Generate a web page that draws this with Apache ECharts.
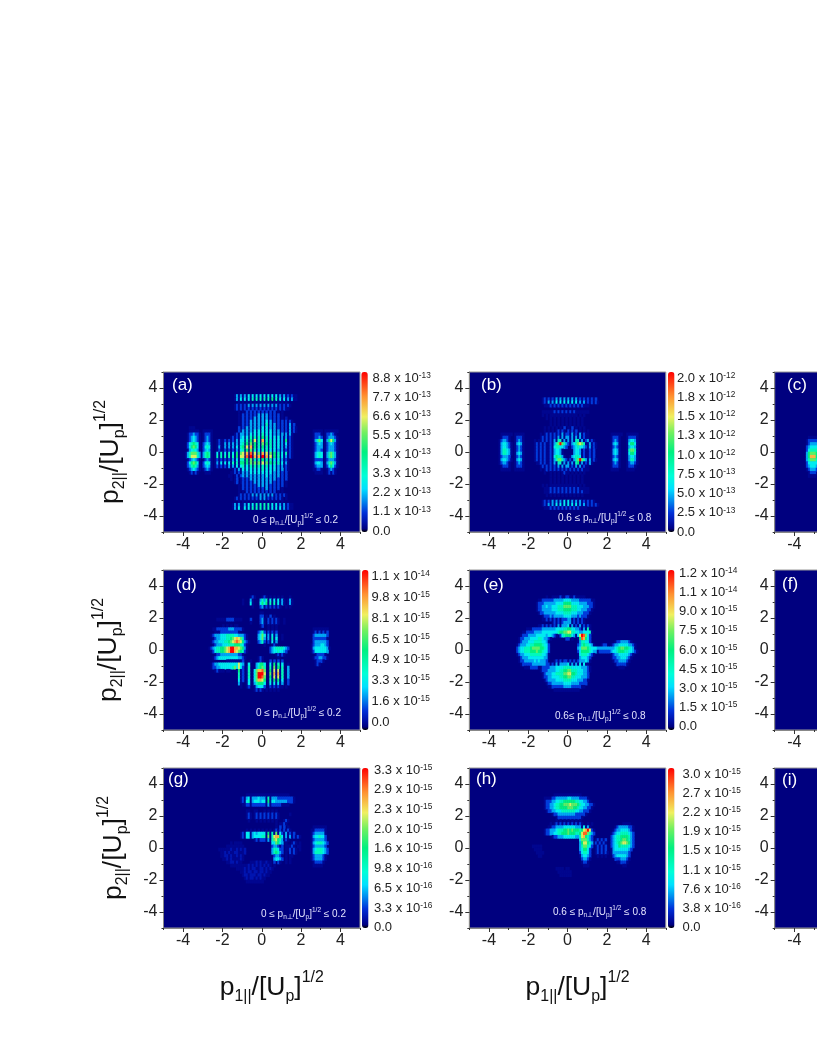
<!DOCTYPE html>
<html><head><meta charset="utf-8">
<style>html,body{margin:0;padding:0;background:#fff}#main{width:817px;height:1058px;filter:blur(0.75px)}</style>
<script src="https://cdn.jsdelivr.net/npm/echarts@6/dist/echarts.min.js"></script>
</head><body><div id="main"></div>
<script>
// Each row: y from 3.9 down to -3.9 (step 0.2). Each row is split in 10-column groups, x from -4 (step 0.1).
// '.' empty, a/b faint, digits tenths of the scale maximum, x = maximum.
const panelA = ["","",
"_ _ ......a2a2 a2a3a3a3a3 a3a3a3a3a2 a2a1a1aa..",
"_ _ ......a2a3 a3a3a4a4a4 a4a4a5a4a3 a3a2a2aa..",
"_ _ ........a. a.a.a.a.a. a.a.a.a.a. a.a.....",
"_ _ ......a1a1 a1a2a2a2a2 a2a2a2a2a1 a1a1a...",
"_ _ ......a1a1 a1a1a1a1a1 a1a1a1a1a1 a1aa....",
"_ _ ........a. a.1.1.1.1. 1.1.1.1.a. a.",
"_ _ ........a. 1.1.1.1.2. 2.2.1.1.1. a.",
"_ _ ........a. 1.1.1.2.2. 2.2.1.1.1. a.b",
"_ _ ........a. 1.1.2.2.2. 2.3.2.1.1. 1.1a1a",
"_ _ ........a. 1.1.2.2.2. 2.4.2.2.1. 1.1a2a1.",
"...aaa.... _ ........1. 1.2.2.2.2. 3.3.2.2.1. 1.1a2a1a",
"...aaaaa.. aaaaa..... ........1. 2.2.2.3.3. 3.3.3.2.2. 1.1a2a1a.. ......aaaa a.aaaaaaa.",
"..a11211a. a111a..... ......a1a2 2.2.3.3.3. 4.3.3.2.2. 2.2a2a.... ......a111 a.a1121a",
"..a12321a. a121a..... ....a1a1a2 3.3.4.4.4. 5.4.3.3.3. 2a2a1a.... ......a112 1.a12221a",
"..a12321a. a121a..a1a a1a1a1a2a3 3.4.5.7.4. 8.4.4.3.3. 2a5a1a.... ......a246 3.a25752a.",
"..134543a. 1232a..a1a a2a2a2a2a3 4.5.6.5.4. 6.5.4.3.3. 2a3a1a.... ......a123 2.a12321a.",
"..135653a. 1343a..a2a a2a2a2a3a4 5.7.8.5.4. 5.4.4.3.3. 2a2a1a.... ......a122 2.a12221a.",
"..a23432a. 1232a..a1a a1a1a1a2a3 4.5.6.4.3. 4.4.3.3.2. 2a1a1a.... ......a122 1.a12221a.",
".a2466642a 2454a.a3a4 a3a4a3a5a6 7.8.9.7.6. 8.7.6.5.4. 3a4a1a.... ......a234 3.a24642a.",
".a2477742a 2454a.a4a4 a4a4a4a5a7 7.9.x.8.8. x.8.7.5.4. 3a2a1a.... ......a234 3.a24642a.",
"..a12321a. a121a.a1a1 a1a1a2a3a4 4.5.6.4.4. 5.4.4.3.3. 2a1a...... ......a111 1.a12221a.",
"..135653a. 1343a.a2a3 a3a3a4a4a5 5.5.6.6.6. 7.6.5.4.4. 3a2a...... ......a233 2.a24642a.",
"..124542a. 1232a.a1a1 a1a2a2a3a3 4.3.4.4.4. 4.4.3.3.2. 2a1a...... ......a122 2.a13531a.",
"..a12321a. a121a..... .....a1a2a 3.3.3.3.3. 4.3.3.3.2. 2.1a...... ......aa11 a..a121a..",
"...a1a1a.. .aaa...... ....aa1a1a 2.2.3.3.3. 3.3.3.2.2. 1.1....... .......aaa a..a1a1a..",
"_ _ ...aa.a1a1 2.2.2.2.2. 2.3.2.2.2. 1.1.",
"_ _ ....a.a1.a 1.1.2.2.2. 2.2.2.2.1. 1.1",
"_ _ ......a1.a 1.1.1.2.2. 2.2.2.1.1. 1.a.",
"_ _ ........a. 1.1.1.1.2. 2.2.1.1.1. 1.a.",
"_ _ ........a. 1.1.1.1.1. 1.2.1.1.1. a.",
"_ _ ........a. a.1.1.1.1. 1.1.1.1.a. a.",
"_ _ ........a1 a1a1a2a2a2 a2a2a2a1a1 a1a...",
"_ _ ......a1a1 a1a1a1a1a2 a2a1a1a1a1 a.a.....",
"_ _ ........a. a.a.a.a.a. a.a.a.a.a. a.",
"_ _ .....a2a2a a2a3a3a4a4 a4a4a3a3a2 a2a1aa",
"_ _ .....a2a3a a3a3a4a4a4 a4a4a3a3a3 a2a1aa",
"",""];
const panelB = ["","","",
"_ _ .......a1a 1a1a2a2a2a 2a2a2a1a1a 1a1a1",
"_ _ .......a1a 2a2a3a3a3a 3a3a3a2a2a 1a1a1a",
"_ _ ........aa a1a1a1a1a1 a1a1a1a1aa a",
"",
"_ _ .......aaa aaa1a1a1a1 a1a1aaaaaa a",
"_ _ .......a.a .aaaaaaaaa aaaaa.a.a",
"_ _ .........a .a.a.a.a.a .a.a.a.a",
"_ _ _ .a.a.a.a.a .a.a.a.a.",
"_ _ _ .a.a.a.a.a .a.a.a.a.",
"_ _ ........a. a.a.a.a.1. a.1.a.a.a.",
"_ _ ........a. a.a.a1a1a. 1a1a1.a.a. a",
"......aaaa aa.aaaaa.. ......a.a1 a1a1a1a2a1 1a2a1a2a1a a......... ..aaaaaa.. aaaaaa",
"......a111 a..a111a.. ......a1a1 a1a1a2a2a2 2a2a2a2a1a a......... ..a111a... a1111a",
".....a1221 a..a121a.. ...a.aa1a1 a1a2a44a2a 2a2a44a2a1 2a1a...... ..a121a... a2332a",
".....a2332 1a.a232a.. ...a1a1a1a a1a246x642 1a2346764a a2a1a..... ..a232a... a3553a",
".....a2332 1a.a121a.. ...a1a1a1a a1a3443321 ..12343321 a2a1a..... ..a121a... a2332a",
".....a2443 2a.a121a.. ...a1a1a1a a1a2332a.. ...2332a1a a1a1...... ..a232a... a4664a",
".....a2443 2a.a232a.. ...a1a1a1a a1a2332a.. ...2332a1a a1a1...... ..a232a... a3553a",
".....a1222 1..a121a.. ...a1a1a1a a1a35442a. .a23443a1a a1a1...... ..a121a... a2332a",
".....a2332 1a.a232a.. ...a1a1a1a a1a2466421 a1a246x642 a2a1a..... ..a232a... a2442a",
".....a1221 a..a121a.. ....aa1a1a a1a2a44a2a 2a2a45a2a1 a2a....... ..a121a... a1221a",
"......a111 a..a111a.. ......a1a1 a1a1a2a2a2 2a1a2a2a1a a......... ..a111a... a111a",
"......aaaa a..aaaaa.. ......a.a1 a1a1a1a1a1 a1a1a1a1aa a......... ..aaaa.... aaaa",
"_ _ ........a. .a.a.a.a1a a.a.a.a.a.",
"_ _ _ .a.a.a.a.a .a.a.a.a.",
"_ _ _ .a.a.a.a.a .a.a.a.a.",
"_ _ _ .a.a.a.a.a .a.a.a.a.",
"_ _ .......a.a .aaaaaaaaa aaaaa.a.a",
"_ _ ........aa a1a1a1a1a1 a1a1a1aaaa a",
"_ _ ........aa a1a1a1a1a1 a1a1a1a1aa a",
"_ _ .........a .a.a.a.a.a .a.a.a.a",
"",
"_ _ .......a1a 1a2a2a2a3a 3a2a2a2a1a 1a1a",
"_ _ .......a1a 2a2a3a3a3a 3a3a3a2a2a 1a1a1a",
"_ _ ........aa a1a1a1a1a1 a1a1a1aaaa",
"",""];
const panelC = ["","","","","","","","","","","","","","","",
".......aaa aaa",
"......a111 11",
"......a122 22",
"......1233 33",
"......1344 44",
"......2566 65",
"......2588 853",
"......2466 64",
"......1333 33",
"......1233 32",
"......a122 21",
".......a11 1",
".......aaa a",
"","","","","","","","","","","",""];
const panelD = ["","","",
"_ _ _ ....a1a... a1a.a.a.a. a...a",
"_ _ _ a...2a...2 424a3a3a3a 2a.a2a.",
"_ _ _ a...3a...3 535a4a4a3a 2a.a2a.",
"_ _ _ .....a...1 2a1a1a1a1a ..a.a",
"",
"_ _ _ .........a a",
"_ _ _ .........1 1.a.1.a..",
"_ .......aaa aa1111aaaa ....1....1 2a.1a1a1a. .a",
"_ _ _ ....a....1 2a.1a1a1a. .a",
"_ _ a.a.a.aa.. .........a 1..a.a.a",
"_ .....aa111 1112221111 a......... ...a.a.a.. _ ......aaaa aaaa",
"_ ......aaa1 11111111a. ........12 41.1a1a1.. _ ......a1a1 a1a1",
"_ ....a12223 3344443322 21a.....23 63.2a3a2.. a......... ......1222 2221",
"_ .....a1223 3344567876 41a.....23 62.2a4a3.. a......... ......1111 111a",
"_ ....a12233 3445678987 521a....12 41.1a3a2.. _ ......1222 2221",
"_ .....a1222 3334445554 31a....... .a...a1a.. _ .....a1222 3321",
"_ ...a123445 5678xx8876 52a....... ....123444 4321...... .....a2333 3332a",
"_ ....a13445 5678xx8765 41a....... ....123343 321....... .....a1333 3332",
"_ ......a112 2222222211 a......... .......a1a 1a........ .......a11 11a",
"_ .....a1233 3333333322 1a......a1 a.......a. _ ......a112 211a",
"_ _ ..aaaaaaaa 1...a...a1 a...1.1.1. 1......... .......a11 1a",
"_ ....a12233 3333333373 2..3...235 53..3a5a4. 3..a...... .......a1a",
"_ ....a11223 3333346373 1.a4...245 64..4a6a5. 4..2......",
"_ ......a1aa a.aa...a5a 1.a4..3688 96..5a7a7a 4..2..",
"_ _ ........4a 1.a4..36xx x7..6a8a8a 4..2..",
"_ _ ........4a 1.a4..36xx 96..5a7a7a 4..2..",
"_ _ ........3a 1.a3..3688 75..4a5a5a 3..1..",
"_ _ ........2a ..a3..2455 53..3a3a3a 2..1",
"_ _ .........a ..a1..a233 31..1a1a1a a.a",
"_ _ _ ......a1a1 a.a.a.a.a",
"","","","","","","",""];
const panelE = ["","","",
"_ _ .........a ..aaaa1aa1 1aa1aaaaa.",
"_ _ .....aa111 1112222233 3322221111 11aa",
"_ _ ....a11122 2222333355 5533332222 111a",
"_ _ ....a11223 2233344466 6644433322 211a",
"_ _ ....a11222 2233344455 5544433222 11a",
"_ _ .....a1122 2222333344 4433322211 1a",
"_ _ .......a11 1212222233 3322212111 a",
"_ _ .......aa1 a1a1a1a111 22a1a1a1a.",
"_ _ _ ..a1a1a122 22a1a1a1a.",
"_ _ .....aa1a1 a1a1a2a222 3a2a1a2a1a 1a",
"_ .........a aa11111222 2222333344 5533221a2a 4a",
"_ .......aa1 1112222333 3333345566 7744332233 34a",
"_ ......a111 2222333332 3321a.1345 5532a37x96 31",
"_ .....a1122 2333344322 1a.......1 1.a..a5985 31",
"_ .....a1222 3334444332 a......... .....a2443 31........ ....a11222 21a",
"_ ....a12223 3445555433 1......... .....12454 432a...a11 ..a1223333 3221a",
"_ ....123344 4566665543 1......... .....23666 5433322222 2222345665 5432a",
"_ ....123344 4555655433 1......... .....13555 54322a1111 1123345554 43321a",
"_ ....a12233 3444444332 a......... .....a3444 321a...... ..a1223333 321a",
"_ .....a1222 3333333322 a......... .....a2333 21........ ..a1122333 21a",
"_ .....a1122 2223232221 ...a1a1a11 a1a1a12223 2a........ ...a112222 1a",
"_ ......a111 1122222221 1a1a2a2222 3a2a2a3a3a a......... ....a11111 a",
"_ ........aa a1111aa111 1222333344 4433333222 1a........ ......aaa",
"_ _ ......a111 2222334455 6644433322 1a",
"_ _ .......a12 2233444466 7755433322 1",
"_ _ .......a11 2233334455 6644333222 1",
"_ _ ........a1 2222333344 4433322211 a",
"_ _ .........a 1122222233 3322221111",
"_ _ _ aa11111122 2211111aa",
"_ _ _ ...aaaaaaa aaaaaa",
"","","","","","",""];
const panelF = [];
const panelG = ["","","",
"_ _ _ ..aaaaaaaa aaaaaaaaaa aaaa",
"_ _ .........a 1a23a22232 22a4a22211 111111a",
"_ _ .........a 1a34a23332 33a5a33222 222111a",
"_ _ _ aa11a11111 11a2a11111 aaaa",
"",
"_ _ _ ..aa..aa.. .a.a.a.a",
"_ _ _ ..a1a.a1a1 a1a1a1a1a. ....a",
"_ _ _ ..a1a.a1a1 a1a1a1a1a.",
"_ _ _ ...a...a.a .a.a.a.a.. .a1a",
"_ _ _ _ .......a.a a1a",
"_ _ _ _ .......a.1 .1.a...... ......aaaa aaa",
"_ _ _ ..a.a.a.a. a.a.a.a1a1 a1a1a..... .....aa111 11a",
"_ _ .........a 1a33a23233 33a5a4a6a3 1a2a1a1... .....a1222 22a",
"_ _ .........a 1a33a23333 44a6a47885 3a2a2a1a1a .....a2334 331",
"_ _ _ ......a1a1 11a2a46754 2a1a...... .....a1222 221",
"_ _ ....a.aaaa _ .....33653 2.a..a1a.a .....a2344 4321",
"_ _ ..aaaaaaaa a......... .....1221a 1.aaa1a.aa .....a1222 221",
"_ ........aa aaaabaabab ab........ .....24431 1.aa1a1a.a .....a2344 4321",
"_ .........a ababaabbaa ab........ .....24542 1.a.1a1a.. .....a2444 4321",
"_ .........a abbabaabab a......... ......1221 a.a.aa.... .....a1222 21a",
"_ _ aababaaaab a......... ......2332 1.a.a..... .....a1222 21a",
"_ _ ..aabbabaa ....aaabab aabaa.1.1a ..a.a..... ......a111 1a",
"_ _ ....aaaaaa aaabababab ababa.a _ ......aaaa a",
"_ _ .......aaa abababbaab bababa",
"_ _ .........a ababbabbab babaa",
"_ _ _ abbabbbabb abaa",
"_ _ _ .ababbabab aa",
"_ _ _ ..aaaaaaaa a",
"","","","","","","","","","",""];
const panelH = ["","","",
"_ _ _ ...aaaaaaa aaaaaaa",
"_ _ ........aa aa11222222 3322221111 a",
"_ _ ........a1 1122334455 5555443322 1a",
"_ _ ........a1 1223445566 6766654332 211a",
"_ _ ........a1 1223445555 6665543322 11a",
"_ _ .........a 1122333444 4444332211 1a",
"_ _ _ ..a1122222 222211111a",
"_ _ _ ....a11111 1111111a",
"_ _ _ ....a.a.a. a.a.a.a",
"_ _ _ .a.a1a1a1a 1a1a1a1a.. a.a....... ........aa aa",
"_ _ _ aa11222233 3333222a3a 2a........ ....a12222 211a",
"_ _ ........a1 1222344455 6565554578 x71a...... ...a122333 321a",
"_ _ ........a1 1223344555 6555445799 6421...... ..a1233444 4321",
"_ _ _ ..a1122233 3333224785 421....... ..12344555 5421",
"_ _ _ _ ......3666 421.a1a1a1 ..12344566 5421",
"_ _ _ _ ......2577 542.1a1a1a ..12345677 6521",
"_ _ ..aaaaa... _ ......2466 431.a1a1a1 ..12335444 4321",
"_ _ ...aaaa... _ ......2355 31..a1a1a1 ..a2333333 321",
"_ _ ....aaaa.. _ ......1344 31..a1a1a1 a.a2222222 21",
"_ _ .....aa... _ ......a233 21...a.a.a ...1233333 21",
"_ _ _ _ .......122 1a........ ....111222 1a",
"_ _ _ _ .......a11 a......... .....aa111 a",
"_ _ _ _ ........aa a......... ........aa",
"_ _ _ ....aaaa.a a.",
"_ _ _ .....aaaaa aa",
"_ _ _ ......aaaa aa",
"","","","","","","","","","","","","",""];
const panelI = [];

const panelNames = ["(a)","(b)","(c)","(d)","(e)","(f)","(g)","(h)","(i)"];
const panelMax = [8.8e-13,2.0e-12,1e-12,1.1e-14,1.2e-14,1e-14,3.3e-15,3.0e-15,1e-15];
const rangeNotes = [
 "0 ≤ p|n|/[U|p|]|1/2| ≤ 0.2","0.6 ≤ p|n|/[U|p|]|1/2| ≤ 0.8",null,
 "0 ≤ p|n|/[U|p|]|1/2| ≤ 0.2","0.6≤ p|n|/[U|p|]|1/2| ≤ 0.8",null,
 "0 ≤ p|n|/[U|p|]|1/2| ≤ 0.2","0.6 ≤ p|n|/[U|p|]|1/2| ≤ 0.8",null];
const barLabelsA = ["0.0","1.1 x 10^-13","2.2 x 10^-13","3.3 x 10^-13","4.4 x 10^-13","5.5 x 10^-13","6.6 x 10^-13","7.7 x 10^-13","8.8 x 10^-13"];
const barLabelsB = ["0.0","2.5 x 10^-13","5.0 x 10^-13","7.5 x 10^-13","1.0 x 10^-12","1.3 x 10^-12","1.5 x 10^-12","1.8 x 10^-12","2.0 x 10^-12"];
const barLabelsD = ["0.0","1.6 x 10^-15","3.3 x 10^-15","4.9 x 10^-15","6.5 x 10^-15","8.1 x 10^-15","9.8 x 10^-15","1.1 x 10^-14"];
const barLabelsE = ["0.0","1.5 x 10^-15","3.0 x 10^-15","4.5 x 10^-15","6.0 x 10^-15","7.5 x 10^-15","9.0 x 10^-15","1.1 x 10^-14","1.2 x 10^-14"];
const barLabelsG = ["0.0","3.3 x 10^-16","6.5 x 10^-16","9.8 x 10^-16","1.6 x 10^-15","2.0 x 10^-15","2.3 x 10^-15","2.9 x 10^-15","3.3 x 10^-15"];
const barLabelsH = ["0.0","3.8 x 10^-16","7.6 x 10^-16","1.1 x 10^-15","1.5 x 10^-15","1.9 x 10^-15","2.2 x 10^-15","2.7 x 10^-15","3.0 x 10^-15"];
const majorTicks = [-4,-2,0,2,4];

const FONT = '"Liberation Sans", Arial, sans-serif';
// layout: [plot left, plot top, bar left, label left, label top, label bottom, note x, note y, letter x, letter y]
const layout = [
 [163.5,372,361.3,372.5,378,531,253,520,172,387],
 [469.3,372,668,677,378,532,558,518,481,387],
 [774.7,372,null,null,0,0,0,0,787,387],
 [163.5,570,362,371.5,576.7,722.3,256,713,176,587],
 [469.3,570,668,679,573.3,726.7,555,716,483,587],
 [774.7,570,null,null,0,0,0,0,782,586],
 [163.5,768,362,374,770,927.7,261,914,168,781],
 [469.3,768,668,682.5,774,927.7,553,912,476,781],
 [774.7,768,null,null,0,0,0,0,782,782]];
const plotW = 196.5, plotH = 160;
const allRows = [panelA,panelB,panelC,panelD,panelE,panelF,panelG,panelH,panelI];
const allBar = [barLabelsA,barLabelsB,null,barLabelsD,barLabelsE,null,barLabelsG,barLabelsH,null];
const yTitleGap = {0:36,3:38,6:33};

const levels = {a:.035,b:.07,'1':.13,'2':.22,'3':.3,'4':.4,'5':.5,'6':.6,'7':.7,'8':.8,'9':.9,x:1};
function toCells(rows,max){
  const out=[];
  rows.forEach((row,j)=>{
    if(!row) return;
    row.split(' ').forEach((g,gi)=>{
      if(g==='_') return;
      g.slice(0,10).split('').forEach((c,i)=>{
        if(c!=='.') out.push([10+gi*10+i, 44-j, levels[c]*max]);
      });
    });
  });
  return out;
}
const xBands = Array.from({length:100},(_,i)=>String(i));
const yBands = Array.from({length:50},(_,i)=>String(i));

// colour ramp
const stops=[[0,[0,0,0]],[.02,[0,0,127]],[.06,[0,16,168]],[.12,[0,48,216]],[.2,[0,144,240]],[.27,[0,224,255]],[.35,[0,255,216]],[.5,[0,240,128]],[.62,[112,240,96]],[.72,[240,240,96]],[.85,[255,144,48]],[1,[255,0,0]]];
function ramp(t){
  for(let i=1;i<stops.length;i++){ if(t<=stops[i][0]){
    const [a,ca]=stops[i-1],[b,cb]=stops[i],f=(t-a)/(b-a);
    return 'rgb('+ca.map((v,k)=>Math.round(v+(cb[k]-v)*f)).join(',')+')';
  }}
  return 'rgb(255,0,0)';
}
const rampColors=Array.from({length:101},(_,i)=>ramp(i/100));

const tickText={color:'#222',fontFamily:FONT,fontSize:16};
const grid=[],xAxis=[],yAxis=[],series=[],visualMap=[],graphic=[];
const nameRich=sz=>({m:{fontSize:sz,fontFamily:FONT,color:'#111',lineHeight:sz+8},
  s:{fontSize:sz*0.6,fontFamily:FONT,color:'#111',verticalAlign:'bottom',lineHeight:sz+8,padding:[10,0,0,0]},
  u:{fontSize:sz*0.6,fontFamily:FONT,color:'#111',verticalAlign:'top',lineHeight:sz*0.6}});
const title1='{m|p}{s|1||}{m|/[U}{s|p}{m|]}{u|1/2}', title2='{m|p}{s|2||}{m|/[U}{s|p}{m|]}{u|1/2}';

layout.forEach((L,k)=>{
  const g=grid.length;
  grid.push({show:true,left:L[0],top:L[1],width:plotW,height:plotH,backgroundColor:'#00007f',borderColor:'#999',borderWidth:1,containLabel:false,outerBoundsMode:'none'});
  const xi=xAxis.length, yi=yAxis.length;
  xAxis.push({type:'category',gridIndex:g,data:xBands,show:false});
  xAxis.push(Object.assign({type:'value',gridIndex:g,position:'bottom',min:-5,max:5,
    axisLine:{show:true,onZero:false,lineStyle:{color:'#888'}},splitLine:{show:false},
    axisTick:{show:true,length:4,customValues:majorTicks,lineStyle:{color:'#333'}},
    axisLabel:Object.assign({show:true,margin:5,customValues:majorTicks,formatter:v=>String(v)},tickText)},
    k===6||k===7?{name:title1,nameLocation:'middle',nameGap:42,nameTextStyle:{rich:nameRich(26.5),padding:[0,0,0,20]}}:{}));
  xAxis.push({type:'value',gridIndex:g,position:'bottom',min:-5,max:5,interval:1,
    axisLine:{show:false,onZero:false},splitLine:{show:false},
    axisTick:{show:true,length:2,lineStyle:{color:'#333'}},axisLabel:{show:false}});
  yAxis.push({type:'category',gridIndex:g,data:yBands,show:false});
  yAxis.push(Object.assign({type:'value',gridIndex:g,position:'left',min:-5,max:5,
    axisLine:{show:true,onZero:false,lineStyle:{color:'#888'}},splitLine:{show:false},
    axisTick:{show:true,length:4,customValues:majorTicks,lineStyle:{color:'#333'}},
    axisLabel:Object.assign({show:true,margin:6,customValues:majorTicks,formatter:v=>String(v)},tickText)},
    k%3===0?{name:title2,nameLocation:'middle',nameGap:yTitleGap[k],nameRotate:90,nameTextStyle:{rich:nameRich(26.5)}}:{}));
  yAxis.push({type:'value',gridIndex:g,position:'left',min:-5,max:5,interval:1,
    axisLine:{show:false,onZero:false},splitLine:{show:false},
    axisTick:{show:true,length:2,lineStyle:{color:'#333'}},axisLabel:{show:false}});
  series.push({type:'heatmap',name:panelNames[k],xAxisIndex:xi,yAxisIndex:yi,
    data:toCells(allRows[k],panelMax[k]),animation:false,progressive:0,emphasis:{disabled:true},silent:true});
  visualMap.push({type:'continuous',seriesIndex:k,min:0,max:panelMax[k],show:allBar[k]!==null,
    left:L[2]===null?900:L[2],top:L[1],itemWidth:6.5,itemHeight:plotH,padding:0,calculable:false,
    realtime:false,hoverLink:false,text:null,inRange:{color:rampColors},textStyle:{fontSize:1,color:'#fff'},
    formatter:()=>''});
  graphic.push({type:'text',left:L[8],top:L[9]-10,z:100,style:{text:panelNames[k],fill:'#fff',font:'17px '+FONT}});
  if(rangeNotes[k]){
    const pp=rangeNotes[k].split('|');
    graphic.push({type:'text',left:L[6],top:L[7]-7,z:100,style:{
      text:'{t|'+pp[0]+'}{d|'+pp[1]+'⊥}{t|'+pp[2]+'}{d|'+pp[3]+'}{t|]}{o|'+pp[5]+'}{t|'+pp[6]+'}',
      rich:{t:{fontSize:10,fontFamily:FONT,fill:'#e4e4ff',lineHeight:14},
            d:{fontSize:6.5,fontFamily:FONT,fill:'#e4e4ff',verticalAlign:'bottom',lineHeight:14,padding:[5,0,0,0]},
            o:{fontSize:6.5,fontFamily:FONT,fill:'#e4e4ff',verticalAlign:'top',lineHeight:7}}}});
  }
});
// colour-bar labels: one narrow grid per bar
layout.forEach((L,k)=>{
  const labs=allBar[k]; if(!labs) return;
  const g=grid.length;
  grid.push({left:L[3]-1,top:L[4],width:1,height:L[5]-L[4],outerBoundsMode:'none'});
  xAxis.push({type:'value',gridIndex:g,show:false,min:0,max:1});
  yAxis.push({type:'value',gridIndex:g,position:'right',min:0,max:labs.length-1,interval:1,
    axisLine:{show:false},axisTick:{show:false},splitLine:{show:false},
    axisLabel:{show:true,margin:0,align:'left',hideOverlap:false,
      formatter:v=>{const s=labs[Math.round(v)],i=s.indexOf('^');return i<0?'{n|'+s+'}':'{n|'+s.slice(0,i)+'}{e|'+s.slice(i+1)+'}';},
      rich:{n:{fontSize:13,fontFamily:FONT,color:'#222',lineHeight:13},
            e:{fontSize:8.3,fontFamily:FONT,color:'#222',verticalAlign:'top',lineHeight:8}}}});
});
const chart=echarts.init(document.getElementById('main'));
chart.setOption({animation:false,backgroundColor:'#fff',grid,xAxis,yAxis,series,visualMap,graphic,tooltip:{show:false}});
</script></body></html>
